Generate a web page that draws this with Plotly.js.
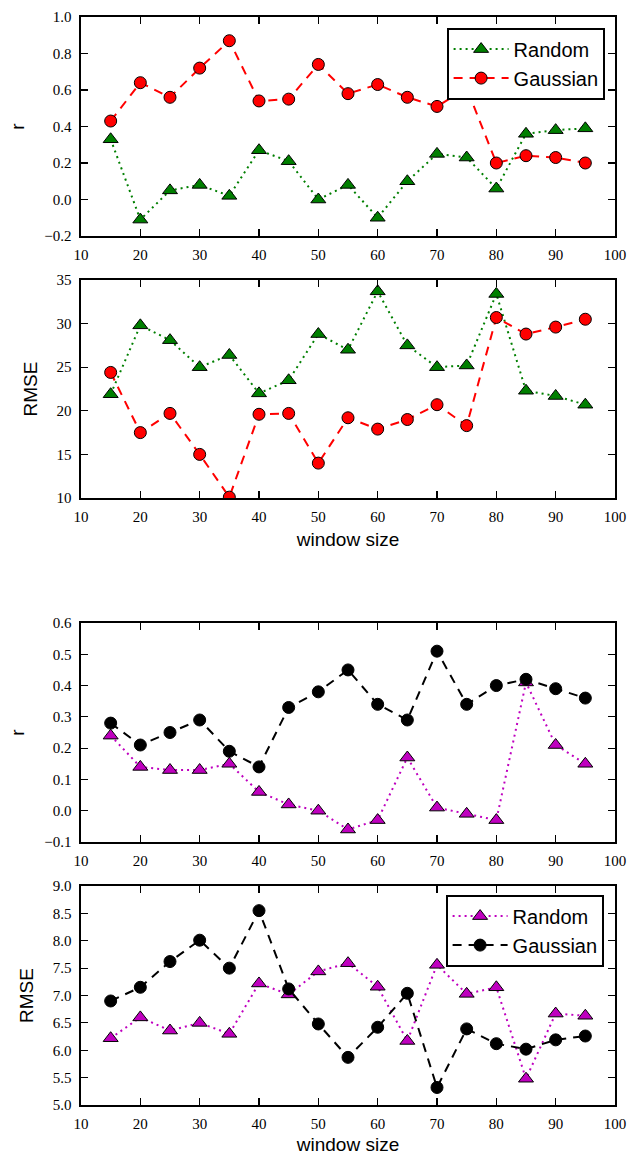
<!DOCTYPE html>
<html>
<head>
<meta charset="utf-8">
<script src="https://cdn.plot.ly/plotly-3.0.1.min.js"></script>
<style>html,body{margin:0;padding:0;background:#fff;}#chart{width:631px;height:1155px;}</style>
</head>
<body>
<div id="chart"></div>
<script>
// window sizes
const windowSizes = [15,20,25,30,35,40,45,50,55,60,65,70,75,80,85,90,95];

// Panel 1: correlation r (first experiment)
const rRandomA   = [0.33,-0.11,0.05,0.08,0.02,0.27,0.21,0.00,0.08,-0.10,0.10,0.25,0.23,0.06,0.36,0.38,0.39];
const rGaussianA = [0.43,0.64,0.56,0.72,0.87,0.54,0.55,0.74,0.58,0.63,0.56,0.51,0.61,0.20,0.24,0.23,0.20];

// Panel 2: RMSE (first experiment)
const rmseRandomA   = [21.9,29.8,28.1,25.0,26.4,22.0,23.5,28.8,27.0,33.7,27.5,25.0,25.2,33.4,22.3,21.7,20.7];
const rmseGaussianA = [24.4,17.5,19.7,15.0,10.1,19.6,19.7,14.0,19.2,17.9,19.0,20.7,18.3,30.7,28.8,29.6,30.5];

// Panel 3: correlation r (second experiment)
const rRandomB   = [0.24,0.14,0.13,0.13,0.15,0.06,0.02,0.00,-0.06,-0.03,0.17,0.01,-0.01,-0.03,0.41,0.21,0.15];
const rGaussianB = [0.28,0.21,0.25,0.29,0.19,0.14,0.33,0.38,0.45,0.34,0.29,0.51,0.34,0.40,0.42,0.39,0.36];

// Panel 4: RMSE (second experiment)
const rmseRandomB   = [6.22,6.60,6.36,6.50,6.30,7.22,7.02,7.44,7.59,7.16,6.17,7.56,7.03,7.15,5.48,6.67,6.63];
const rmseGaussianB = [6.90,7.15,7.62,8.01,7.50,8.55,7.12,6.48,5.87,6.42,7.04,5.32,6.39,6.12,6.02,6.19,6.26];

const seriesNames = ["Random", "Gaussian"];
const xTickVals = [10,20,30,40,50,60,70,80,90,100];

const W = 631, H = 1155;
const xDom = [81/W, 615/W];
const pan = [[17,236],[280,498],[623,842],[886,1105]];
const yd = p => [1 - p[1]/H, 1 - p[0]/H];

const tickFont = {family: "Liberation Serif, Times New Roman, serif", size: 15, color: "#000"};
const titleFont = {family: "Liberation Sans, Arial, sans-serif", size: 19, color: "#000"};

function mkTrace(y, name, ax, color, dash, symbol, msize, legend, show) {
  return {
    x: windowSizes, y: y, name: name, type: "scatter", mode: "lines+markers",
    xaxis: "x" + (ax === 1 ? "" : ax), yaxis: "y" + (ax === 1 ? "" : ax),
    line: {color: color, width: 2, dash: dash},
    marker: {color: color, symbol: symbol, size: msize, line: {color: "#000", width: 1}},
    legend: legend, showlegend: show
  };
}
const GREEN = "#007f00", RED = "#ff0000", MAG = "#bf00bf", BLK = "#000000";
const DOT = "2px,4px", DASH = "9px,7px";

const traces = [
  mkTrace(rRandomA, seriesNames[0], 1, GREEN, DOT, "triangle-up", 13, "legend", true),
  mkTrace(rGaussianA, seriesNames[1], 1, RED, DASH, "circle", 12, "legend", true),
  mkTrace(rmseRandomA, seriesNames[0], 2, GREEN, DOT, "triangle-up", 13, "legend", false),
  mkTrace(rmseGaussianA, seriesNames[1], 2, RED, DASH, "circle", 12, "legend", false),
  mkTrace(rRandomB, seriesNames[0], 3, MAG, DOT, "triangle-up", 13, "legend2", false),
  mkTrace(rGaussianB, seriesNames[1], 3, BLK, DASH, "circle", 12, "legend2", false),
  mkTrace(rmseRandomB, seriesNames[0], 4, MAG, DOT, "triangle-up", 13, "legend2", true),
  mkTrace(rmseGaussianB, seriesNames[1], 4, BLK, DASH, "circle", 12, "legend2", true)
];

function xAxis(i, title) {
  const a = {
    domain: xDom, anchor: "y" + (i === 1 ? "" : i), range: [10, 100],
    tickvals: xTickVals, ticks: "inside", ticklen: 7, tickwidth: 1.2, tickcolor: "#000",
    showline: true, linecolor: "#000", linewidth: 1.6, mirror: "ticks",
    showgrid: false, zeroline: false, tickfont: tickFont, ticklabelstandoff: 4,
    fixedrange: true
  };
  if (title) a.title = {text: title, font: titleFont, standoff: 9};
  return a;
}
function yAxis(i, range, dtick, fmt, title) {
  return {
    domain: yd(pan[i-1]), anchor: "x" + (i === 1 ? "" : i), range: range, dtick: dtick,
    tick0: range[0], tickformat: fmt,
    ticks: "inside", ticklen: 7, tickwidth: 1.2, tickcolor: "#000",
    showline: true, linecolor: "#000", linewidth: 1.6, mirror: "ticks",
    showgrid: false, zeroline: false, tickfont: tickFont, ticklabelstandoff: 5,
    title: {text: title, font: titleFont, standoff: 14}, fixedrange: true
  };
}

const legendBase = {
  xanchor: "left", yanchor: "top", bgcolor: "#fff", bordercolor: "#000", borderwidth: 1.6,
  font: {family: "Liberation Sans, Arial, sans-serif", size: 20, color: "#000"},
  itemwidth: 55, tracegroupgap: 0, traceorder: "normal", itemclick: false
};

const layout = {
  width: W, height: H, margin: {l: 0, r: 0, t: 0, b: 0},
  paper_bgcolor: "#fff", plot_bgcolor: "#fff", showlegend: true,
  xaxis: xAxis(1, null), xaxis2: xAxis(2, "window size"),
  xaxis3: xAxis(3, null), xaxis4: xAxis(4, "window size"),
  yaxis: yAxis(1, [-0.2, 1.0], 0.2, ".1f", "r"),
  yaxis2: yAxis(2, [10, 35], 5, "d", "RMSE"),
  yaxis3: yAxis(3, [-0.1, 0.6], 0.1, ".1f", "r"),
  yaxis4: yAxis(4, [5, 9], 0.5, ".1f", "RMSE"),
  legend: Object.assign({x: 447/W, y: 1 - 28/H}, legendBase),
  legend2: Object.assign({x: 446/W, y: 1 - 895/H}, legendBase)
};

Plotly.newPlot("chart", traces, layout, {displayModeBar: false, staticPlot: true});
</script>
</body>
</html>
